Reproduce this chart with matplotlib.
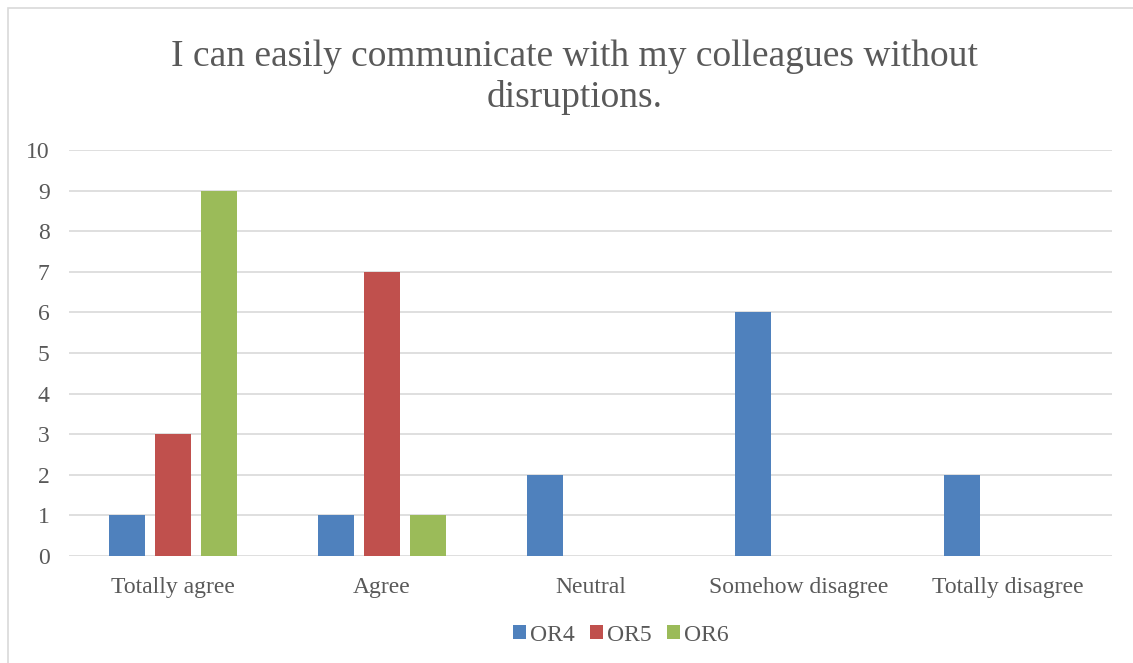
import matplotlib.pyplot as plt
import numpy as np
from matplotlib.patches import Rectangle

categories = ["Totally agree", "Agree", "Neutral", "Somehow disagree", "Totally disagree"]
or4 = [1, 1, 2, 6, 2]
or5 = [3, 7, 0, 0, 0]
or6 = [9, 1, 0, 0, 0]
series = [("OR4", or4, "#4F81BD"), ("OR5", or5, "#C0504D"), ("OR6", or6, "#9BBB59")]

plt.rcParams['font.family'] = ['Liberation Serif', 'DejaVu Serif']

fig = plt.figure(figsize=(11.33, 6.63), dpi=100)
# chart frame (extends past the right/bottom edges)
fig.patches.append(Rectangle((8 / 1133, -0.1), 1.2, (663 - 8) / 663 + 0.1,
                             transform=fig.transFigure, fill=False,
                             edgecolor="#D9D9D9", linewidth=1.2))

ax = fig.add_axes([0.0609, 0.1614, 0.9206, 0.6124])
x = np.arange(len(categories))
w = 0.173
step = 0.22
for i, (name, vals, col) in enumerate(series):
    ax.bar(x + (i - 1) * step, vals, width=w, color=col, label=name, zorder=3)

ax.set_xlim(-0.5, len(categories) - 0.5)
ax.set_ylim(0, 10)
ax.set_yticks(range(0, 11))
ax.grid(axis="y", color="#D9D9D9", linewidth=1.2, zorder=0)
for s in ax.spines.values():
    s.set_visible(False)
ax.tick_params(length=0, labelsize=17, labelcolor="#595959")
ax.tick_params(axis="y", pad=14)
ax.tick_params(axis="x", pad=15)
ax.set_xticks(x)
ax.set_xticklabels(categories)

fig.text(0.507, 0.883, "I can easily communicate with my colleagues without\ndisruptions.",
         ha="center", va="center", fontsize=27, color="#595959", linespacing=1.22)

fig.legend(loc="center", bbox_to_anchor=(0.548, 0.042), ncol=3, frameon=False,
           fontsize=17, handlelength=0.55, handleheight=0.55, handletextpad=0.2,
           columnspacing=0.62, labelcolor="#595959")

fig.savefig("out.png", dpi=100, facecolor="white")
